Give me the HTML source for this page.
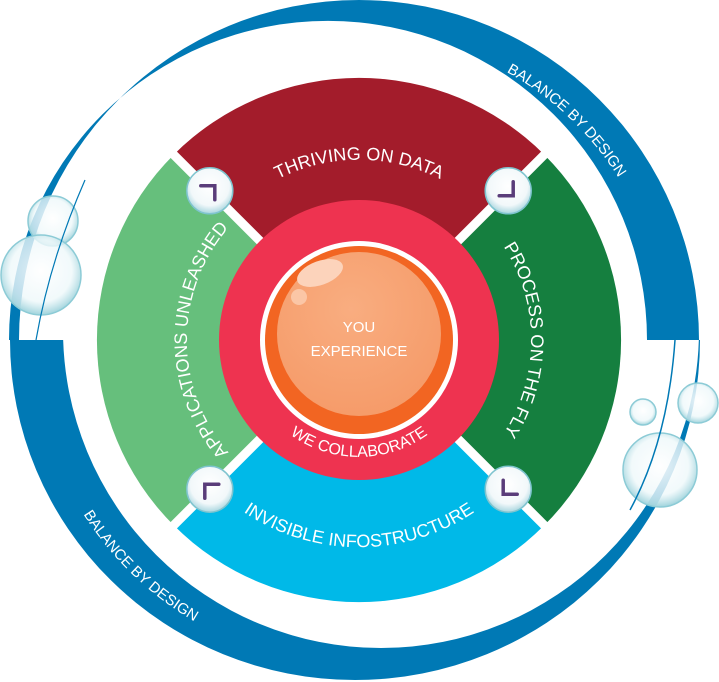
<!DOCTYPE html>
<html><head><style>
html,body{margin:0;padding:0;background:#fff;}
svg{display:block;}
text{font-family:"Liberation Sans",sans-serif;fill:#fff;}
</style></head><body>
<svg width="719" height="682" viewBox="0 0 719 682" xmlns="http://www.w3.org/2000/svg">
<defs>
<clipPath id="topHalf"><rect x="0" y="0" width="719" height="340"/></clipPath>
<clipPath id="botHalf"><rect x="0" y="340" width="719" height="342"/></clipPath>
<radialGradient id="bub" cx="50%" cy="45%" r="55%">
<stop offset="0" stop-color="#ffffff" stop-opacity="0.9"/>
<stop offset="0.7" stop-color="#eef8fa" stop-opacity="0.8"/>
<stop offset="1" stop-color="#9fd3dc"/>
</radialGradient>
<radialGradient id="knob" cx="50%" cy="40%" r="60%">
<stop offset="0" stop-color="#ffffff"/>
<stop offset="0.7" stop-color="#f2f8fa"/>
<stop offset="1" stop-color="#a9d6df"/>
</radialGradient>
<radialGradient id="peach" cx="45%" cy="35%" r="70%">
<stop offset="0" stop-color="#f9ad80"/>
<stop offset="1" stop-color="#f59a68"/>
</radialGradient>
<path id="pTop" d="M181.7,308.7 A180,180 0 0 1 536.3,308.7"/>
<path id="pLeft" d="M329.1,509.4 A172,172 0 0 1 329.1,170.6"/>
<path id="pRight" d="M388.9,170.6 A172,172 0 0 1 388.9,509.4"/>
<path id="pBot" d="M155.1,375.9 A207,207 0 0 0 562.9,375.9"/>
<path id="pWe" d="M243.8,360.3 A117,117 0 0 0 474.2,360.3"/>
<path id="pBal1" d="M271.6,46.8 A306,306 0 0 1 656.7,410.9"/>
<path id="pBal2" d="M42.7,261.1 A326,326 0 0 0 448.8,653.4"/>
</defs>

<!-- blue rings -->
<path clip-path="url(#topHalf)" fill="#0079b5" fill-rule="evenodd" d="M19,340 A340,340 0 1 1 699,340 A340,340 0 1 1 19,340 Z M9,340 A319,319 0 1 0 647,340 A319,319 0 1 0 9,340 Z"/>
<path clip-path="url(#botHalf)" fill="#0079b5" fill-rule="evenodd" d="M10,340 A345,340 0 1 1 700,340 A345,340 0 1 1 10,340 Z M63,330 A318,318 0 1 0 699,330 A318,318 0 1 0 63,330 Z"/>

<!-- bubbles -->
<circle cx="53" cy="221" r="25" fill="url(#bub)" stroke="#8ccbd6" stroke-width="1.5"/>
<circle cx="41" cy="275" r="40" fill="url(#bub)" stroke="#8ccbd6" stroke-width="1.5"/>
<path d="M85,180 Q50,260 36,340" stroke="#0079b5" stroke-width="1.2" fill="none"/>
<circle cx="643" cy="412" r="13" fill="url(#bub)" stroke="#8ccbd6" stroke-width="1.5"/>
<circle cx="698" cy="403" r="20" fill="url(#bub)" stroke="#8ccbd6" stroke-width="1.5"/>
<circle cx="660" cy="470" r="37" fill="url(#bub)" stroke="#8ccbd6" stroke-width="1.5"/>
<path d="M675,340 Q668,440 630,510" stroke="#0079b5" stroke-width="1.5" fill="none"/>

<!-- sectors -->
<path fill="#a31c2b" d="M359,340 L173.7,154.7 A262,262 0 0 1 544.3,154.7 Z"/>
<path fill="#157f3f" d="M359,340 L544.3,154.7 A262,262 0 0 1 544.3,525.3 Z"/>
<path fill="#00b9e8" d="M359,340 L544.3,525.3 A262,262 0 0 1 173.7,525.3 Z"/>
<path fill="#66bf7c" d="M359,340 L173.7,525.3 A262,262 0 0 1 173.7,154.7 Z"/>
<line x1="170" y1="151" x2="548" y2="529" stroke="#fff" stroke-width="9"/>
<line x1="548" y1="151" x2="170" y2="529" stroke="#fff" stroke-width="9"/>

<!-- center -->
<circle cx="359" cy="340" r="140" fill="#ee3350"/>
<circle cx="359" cy="340" r="99" fill="#fff"/>
<circle cx="359" cy="340" r="94" fill="#f26522"/>
<circle cx="359" cy="334" r="82" fill="url(#peach)"/>
<ellipse cx="320" cy="273" rx="24" ry="12" transform="rotate(-20 320 273)" fill="#fcd3bb"/>
<circle cx="299" cy="297" r="8" fill="#fbc6a6"/>

<!-- knobs -->
<g stroke="#5a3d7a" stroke-width="3.5" fill="none" stroke-linecap="round">
<circle cx="209.8" cy="190.8" r="23" fill="url(#knob)" stroke="#7fc4cf" stroke-width="1.5"/>
<path d="M200.8,185.8 L214.8,185.8 L214.8,199.8"/>
<circle cx="508.2" cy="190.8" r="23" fill="url(#knob)" stroke="#7fc4cf" stroke-width="1.5"/>
<path d="M513.2,181.8 L513.2,195.8 L499.2,195.8"/>
<circle cx="508.2" cy="489.2" r="23" fill="url(#knob)" stroke="#7fc4cf" stroke-width="1.5"/>
<path d="M503.2,480.2 L503.2,494.2 L517.2,494.2"/>
<circle cx="209.8" cy="489.2" r="23" fill="url(#knob)" stroke="#7fc4cf" stroke-width="1.5"/>
<path d="M218.8,484.2 L204.8,484.2 L204.8,498.2"/>
</g>

<!-- labels -->
<text font-size="18"><textPath href="#pTop" startOffset="50%" text-anchor="middle">THRIVING ON DATA</textPath></text>
<text font-size="18"><textPath href="#pLeft" startOffset="50%" text-anchor="middle">APPLICATIONS UNLEASHED</textPath></text>
<text font-size="18"><textPath href="#pRight" startOffset="50%" text-anchor="middle">PROCESS ON THE FLY</textPath></text>
<text font-size="18"><textPath href="#pBot" startOffset="50%" text-anchor="middle">INVISIBLE INFOSTRUCTURE</textPath></text>
<text font-size="16"><textPath href="#pWe" startOffset="50%" text-anchor="middle">WE COLLABORATE</textPath></text>
<text font-size="15"><textPath href="#pBal1" startOffset="50%" text-anchor="middle">BALANCE BY DESIGN</textPath></text>
<text font-size="15"><textPath href="#pBal2" startOffset="50%" text-anchor="middle">BALANCE BY DESIGN</textPath></text>
<text x="359" y="332" font-size="15" text-anchor="middle">YOU</text>
<text x="359" y="356" font-size="15" text-anchor="middle">EXPERIENCE</text>
</svg>
</body></html>
